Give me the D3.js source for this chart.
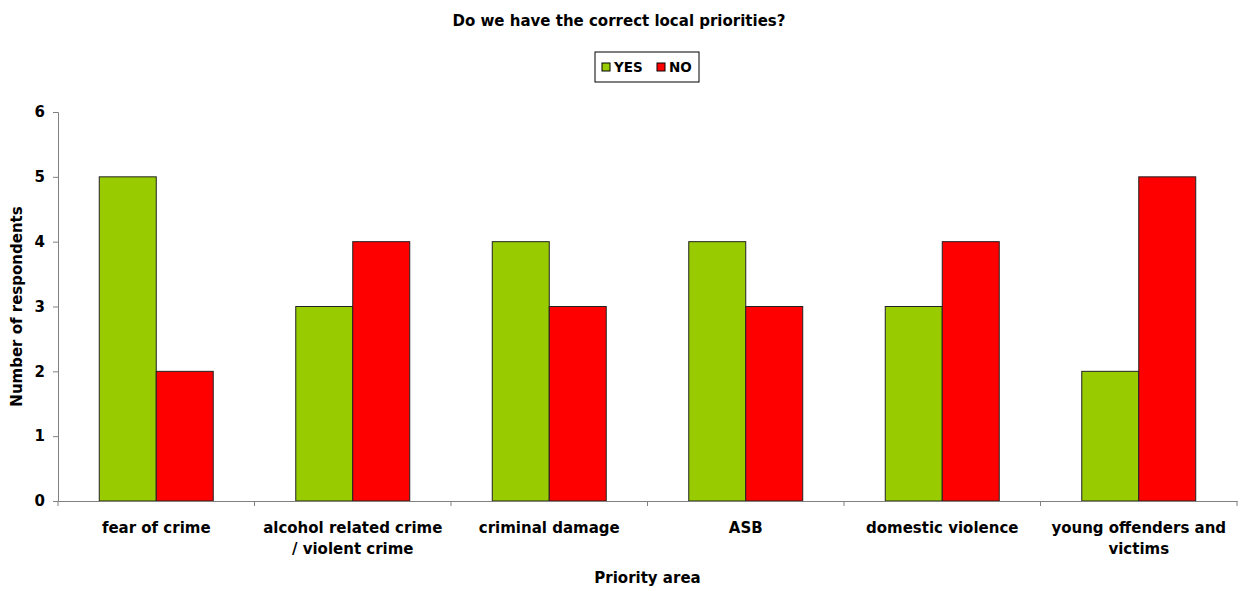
<!DOCTYPE html>
<html><head><meta charset="utf-8">
<script src="https://cdn.jsdelivr.net/npm/d3@7"></script>
<style>
body{margin:0;background:#fff;}
svg text{font-family:"DejaVu Sans",Verdana,sans-serif;font-weight:bold;fill:#000;}
</style></head>
<body><svg id="c" width="1241" height="591"></svg>
<script>
const categories = [["fear of crime"],["alcohol related crime","/ violent crime"],["criminal damage"],["ASB"],["domestic violence"],["young offenders and","victims"]];
const seriesNames = ["YES","NO"];
const yesValues = [5,3,4,4,3,2];
const noValues = [2,4,3,3,4,5];
const yTicks = [0,1,2,3,4,5,6];
const colors = {YES:"#99CC00", NO:"#FF0000"};

const svg = d3.select("#c");
const L=58, R=1237, T=112, B=501;
const catKeys = categories.map(c=>c.join(" "));
const x0 = d3.scaleBand().domain(catKeys).range([L,R]).paddingInner(0).paddingOuter(0);
const x1 = d3.scaleBand().domain(seriesNames).range([0,x0.bandwidth()]).paddingInner(0).paddingOuter(0.724);
const y = d3.scaleLinear().domain([0,6]).range([B,T]);

const data = catKeys.map((k,i)=>({k, vals:[{s:"YES",v:yesValues[i]},{s:"NO",v:noValues[i]}]}));

// bars
const g = svg.append("g");
g.selectAll("g.cat").data(data).join("g").attr("transform",d=>`translate(${x0(d.k)},0)`)
 .selectAll("rect").data(d=>d.vals).join("rect")
 .attr("x",d=>x1(d.s)).attr("width",x1.bandwidth())
 .attr("y",d=>y(d.v)).attr("height",d=>y(0)-y(d.v))
 .attr("fill",d=>colors[d.s]).attr("stroke","#222").attr("stroke-width",1);

// y axis
const ya = svg.append("g").attr("transform",`translate(${L},0)`)
 .call(d3.axisLeft(y).tickValues(yTicks).tickSize(5).tickPadding(8).tickFormat(d3.format("d")));
ya.select(".domain").attr("stroke","#808080");
ya.selectAll(".tick line").attr("stroke","#808080");
ya.selectAll(".tick text").attr("font-size",15).style("font-family","DejaVu Sans").style("font-weight","bold");

// x axis
const xa = svg.append("g").attr("transform",`translate(0,${B})`)
 .call(d3.axisBottom(x0).tickSize(0).tickFormat(""));
xa.select(".domain").attr("stroke","#808080");
xa.selectAll(".tick").remove();
const bounds = catKeys.map(k=>x0(k)).concat([R]);
xa.selectAll("line.sep").data(bounds).join("line").attr("class","sep")
 .attr("x1",d=>d).attr("x2",d=>d).attr("y1",0).attr("y2",5).attr("stroke","#808080");

// category labels
const cl = svg.append("g");
categories.forEach((lines,i)=>{
  const t = cl.append("text").attr("text-anchor","middle").attr("font-size",15)
    .attr("x", x0(catKeys[i])+x0.bandwidth()/2).attr("y",533);
  lines.forEach((ln,j)=>t.append("tspan").attr("x",x0(catKeys[i])+x0.bandwidth()/2).attr("dy",j?21:0).text(ln));
});

// titles
svg.append("text").attr("x",619).attr("y",26).attr("text-anchor","middle").attr("font-size",15).text("Do we have the correct local priorities?");
svg.append("text").attr("x",(L+R)/2).attr("y",583).attr("text-anchor","middle").attr("font-size",15).text("Priority area");
svg.append("text").attr("transform",`translate(22,${(T+B)/2}) rotate(-90)`).attr("text-anchor","middle").attr("font-size",15).text("Number of respondents");

// legend
const lg = svg.append("g");
lg.append("rect").attr("x",595).attr("y",52).attr("width",104).attr("height",30).attr("fill","#fff").attr("stroke","#000").attr("stroke-width",1);
const lx = {YES:[602,614], NO:[657,669]};
seriesNames.forEach(s=>{
  lg.append("rect").attr("x",lx[s][0]).attr("y",63).attr("width",8).attr("height",8).attr("fill",colors[s]).attr("stroke","#000").attr("stroke-width",1);
  lg.append("text").attr("x",lx[s][1]).attr("y",72).attr("font-size",13.5).text(s);
});
</script></body></html>
